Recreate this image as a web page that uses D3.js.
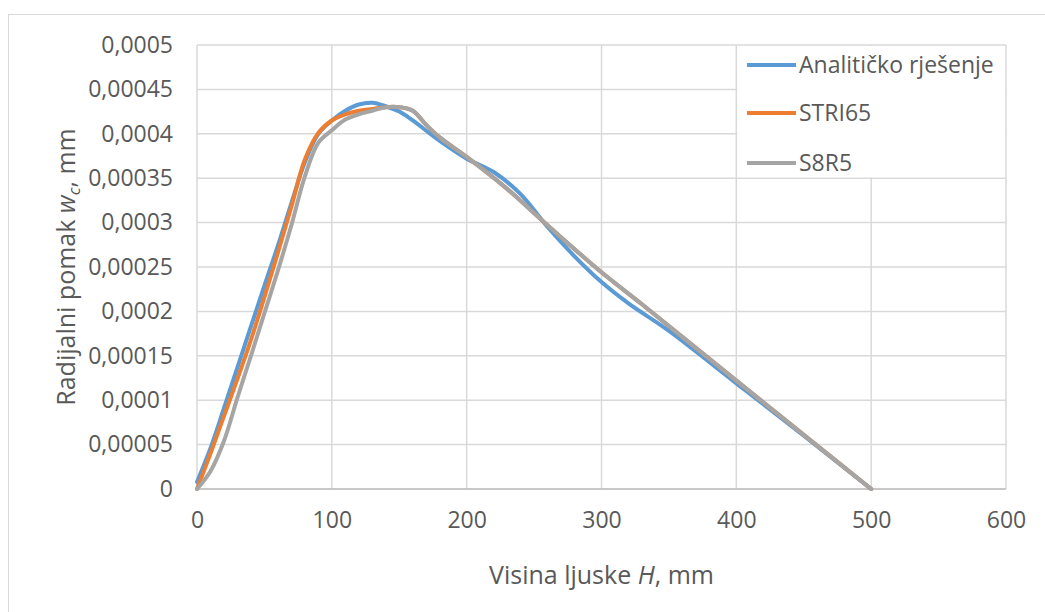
<!DOCTYPE html>
<html><head><meta charset="utf-8">
<script src="https://cdn.jsdelivr.net/npm/d3@7"></script>
<style>
html,body{margin:0;padding:0;background:#fff;}
text{font-family:"Open Sans",sans-serif;fill:#595959;}
</style></head>
<body><svg id="c" width="1045" height="612"></svg>
<script>
const seriesNames = ["Analitičko rješenje", "STRI65", "S8R5"];
const seriesColors = ["#5B9BD5", "#ED7D31", "#A5A5A5"];

const hAnalytic = [0,10,20,30,40,50,60,70,80,90,100,110,120,130,140,150,160,180,200,220,240,260,280,300,320,350,400,450,500];
const wAnalytic = [0.000008,0.000046,0.000091,0.000137,0.000183,0.000229,0.000274,0.000322,0.000368,0.0004,0.000415,0.000426,0.000433,0.000435,0.000431,0.000425,0.000415,0.000392,0.000372,0.000357,0.000332,0.000295,0.000262,0.000233,0.000209,0.000178,0.000119,0.00006,0];

const hSTRI65 = [0,10,20,30,40,50,60,70,80,90,100,110,120,130,140,150,160,170,180,200,230,260,300,330,400,450,500];
const wSTRI65 = [0,0.00004,0.000082,0.000124,0.000168,0.000216,0.000266,0.000318,0.000371,0.000401,0.000415,0.000422,0.000426,0.000428,0.00043,0.00043,0.000426,0.00041,0.000396,0.000374,0.000338,0.000297,0.000244,0.000208,0.000122,0.000061,0];

const hS8R5 = [0,10,20,30,40,50,60,70,80,90,100,110,120,130,140,150,160,170,180,200,230,260,300,330,400,450,500];
const wS8R5 = [0,0.00002,0.000054,0.000103,0.00015,0.000198,0.000246,0.000297,0.000352,0.00039,0.000404,0.000416,0.000422,0.000426,0.00043,0.00043,0.000426,0.00041,0.000396,0.000374,0.000338,0.000297,0.000244,0.000208,0.000122,0.000061,0];

const xTicks = [0,100,200,300,400,500,600];
const yTicks = [0,0.00005,0.0001,0.00015,0.0002,0.00025,0.0003,0.00035,0.0004,0.00045,0.0005];
const yTickLabels = ["0","0,00005","0,0001","0,00015","0,0002","0,00025","0,0003","0,00035","0,0004","0,00045","0,0005"];

const svg = d3.select("#c");
const L = 197, R = 1006, T = 45, B = 489;
const x = d3.scaleLinear().domain([0,600]).range([L,R]);
const y = d3.scaleLinear().domain([0,0.0005]).range([B,T]);

svg.append("rect").attr("x",8.5).attr("y",14.5).attr("width",1100).attr("height",700)
  .attr("fill","#fff").attr("stroke","#D9D9D9").attr("stroke-width",1);

const grid = svg.append("g");
grid.selectAll("line.h").data(yTicks).join("line")
  .attr("x1",L).attr("x2",R).attr("y1",d=>y(d)).attr("y2",d=>y(d))
  .attr("stroke","#D9D9D9").attr("stroke-width",1.5);
grid.selectAll("line.v").data(xTicks).join("line")
  .attr("y1",T).attr("y2",B).attr("x1",d=>x(d)).attr("x2",d=>x(d))
  .attr("stroke","#D9D9D9").attr("stroke-width",1.5);
svg.append("line").attr("x1",L).attr("x2",R).attr("y1",y(0)).attr("y2",y(0))
  .attr("stroke","#BFBFBF").attr("stroke-width",1.5);

const FS = 23;
const xAxis = d3.axisBottom(x).tickValues(xTicks).tickSize(0).tickPadding(23).tickFormat(d=>String(d));
const gx = svg.append("g").attr("transform",`translate(0,${B})`).call(xAxis);
gx.select(".domain").remove();
gx.selectAll("text").attr("font-size",FS).attr("fill","#595959").attr("font-family","'Open Sans',sans-serif");

const yAxis = d3.axisLeft(y).tickValues(yTicks).tickSize(0).tickPadding(24).tickFormat((d,i)=>yTickLabels[i]);
const gy = svg.append("g").attr("transform",`translate(${L},0)`).call(yAxis);
gy.select(".domain").remove();
gy.selectAll("text").attr("font-size",FS).attr("fill","#595959").attr("font-family","'Open Sans',sans-serif");

const data = [
  hAnalytic.map((h,i)=>[h,wAnalytic[i]]),
  hSTRI65.map((h,i)=>[h,wSTRI65[i]]),
  hS8R5.map((h,i)=>[h,wS8R5[i]])
];
const line = d3.line().x(d=>x(d[0])).y(d=>y(d[1])).curve(d3.curveCatmullRom.alpha(0.5));
svg.append("g").selectAll("path").data(data).join("path")
  .attr("d",line).attr("fill","none")
  .attr("stroke",(d,i)=>seriesColors[i]).attr("stroke-width",4)
  .attr("stroke-linejoin","round").attr("stroke-linecap","round");

const lg = svg.append("g");
lg.append("rect").attr("x",x(400)+1).attr("y",y(0.0005)+1)
  .attr("width",x(600)-x(400)-2).attr("height",y(0.00035)-y(0.0005)-2).attr("fill","#fff");
const rowsY = [65,113,163];
seriesNames.forEach((n,i)=>{
  lg.append("line").attr("x1",747).attr("x2",796).attr("y1",rowsY[i]).attr("y2",rowsY[i])
    .attr("stroke",seriesColors[i]).attr("stroke-width",4);
  lg.append("text").attr("x",799).attr("y",rowsY[i]).attr("dy","0.35em")
    .attr("font-size",FS).text(n);
});

svg.append("text").attr("x",(L+R)/2).attr("y",584).attr("text-anchor","middle")
  .attr("font-size",25)
  .html('Visina ljuske <tspan font-style="italic">H</tspan>, mm');
const yt = svg.append("text").attr("transform",`translate(75,${(T+B)/2}) rotate(-90)`)
  .attr("text-anchor","middle").attr("font-size",25);
yt.append("tspan").text("Radijalni pomak ");
yt.append("tspan").attr("font-style","italic").text("w");
yt.append("tspan").attr("font-style","italic").attr("font-size",17).attr("dy",5).text("c");
yt.append("tspan").attr("dy",-5).text(", mm");
</script></body></html>
